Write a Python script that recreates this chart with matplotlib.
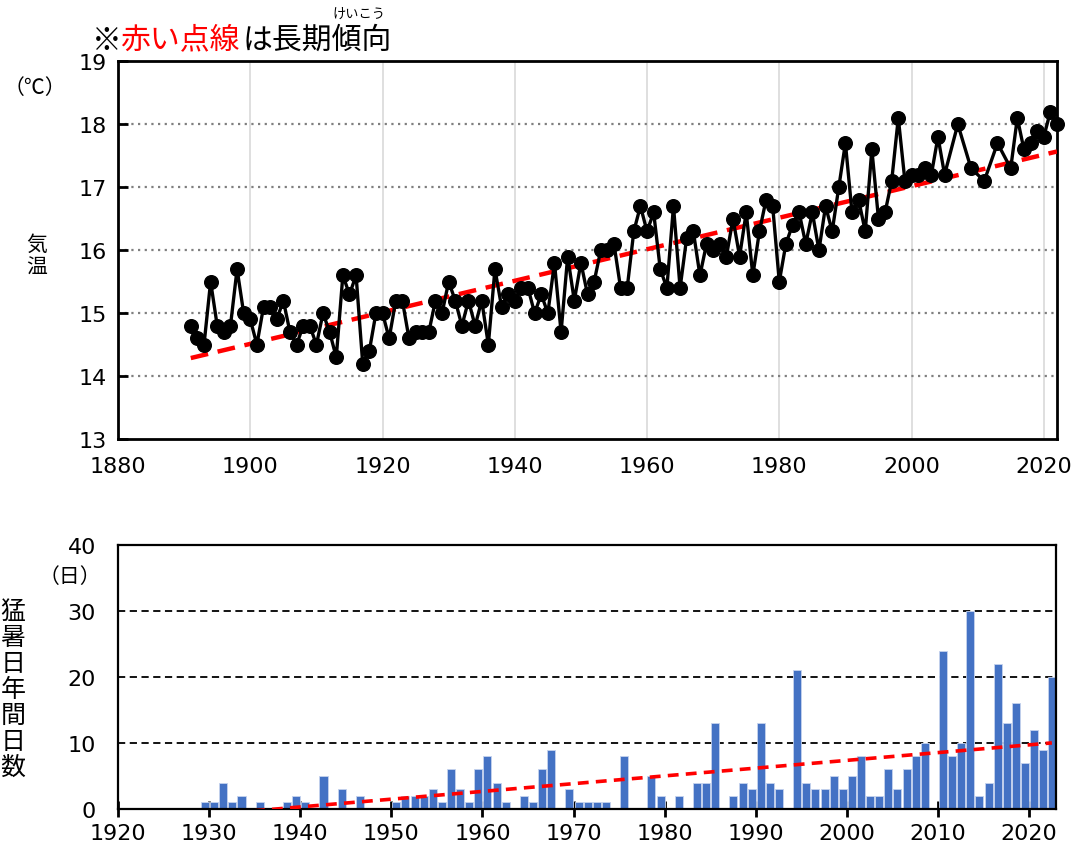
import matplotlib
matplotlib.use("Agg")
import matplotlib.pyplot as plt
import numpy as np

plt.rcParams['font.family'] = ['Noto Sans CJK JP', 'DejaVu Sans']

# 年平均気温 (℃), NaN = 欠測
years = list(range(1891, 2023))
temps = [14.8, 14.6, 14.5, 15.5, 14.8, 14.7, 14.8, 15.7, 15.0, 14.9,   # 1891-1900
         14.5, 15.1, 15.1, 14.9, 15.2, 14.7, 14.5, 14.8, 14.8, 14.5,   # 1901-1910
         15.0, 14.7, 14.3, 15.6, 15.3, 15.6, 14.2, 14.4, 15.0, 15.0,   # 1911-1920
         14.6, 15.2, 15.2, 14.6, 14.7, 14.7, 14.7, 15.2, 15.0, 15.5,   # 1921-1930
         15.2, 14.8, 15.2, 14.8, 15.2, 14.5, 15.7, 15.1, 15.3, 15.2,   # 1931-1940
         15.4, 15.4, 15.0, 15.3, 15.0, 15.8, 14.7, 15.9, 15.2, 15.8,   # 1941-1950
         15.3, 15.5, 16.0, 16.0, 16.1, 15.4, 15.4, 16.3, 16.7, 16.3,   # 1951-1960
         16.6, 15.7, 15.4, 16.7, 15.4, 16.2, 16.3, 15.6, 16.1, 16.0,   # 1961-1970
         16.1, 15.9, 16.5, 15.9, 16.6, 15.6, 16.3, 16.8, 16.7, 15.5,   # 1971-1980
         16.1, 16.4, 16.6, 16.1, 16.6, 16.0, 16.7, 16.3, 17.0, 17.7,   # 1981-1990
         16.6, 16.8, 16.3, 17.6, 16.5, 16.6, 17.1, 18.1, 17.1, 17.2,   # 1991-2000
         17.2, 17.3, 17.2, 17.8, 17.2, np.nan, 18.0, np.nan, 17.3, np.nan,   # 2001-2010
         17.1, np.nan, 17.7, np.nan, 17.3, 18.1, 17.6, 17.7, 17.9, 17.8,   # 2011-2020
         18.2, 18.0]                                                    # 2021-2022

# 猛暑日 年間日数
hot_years = list(range(1929, 2023))
hot_days = [1, 1, 4, 1, 2, 0, 1, 0, 0, 1, 2,          # 1929-1939
            1, 0, 5, 0, 3, 0, 2, 0, 0, 0,             # 1940-1949
            1, 2, 2, 2, 3, 1, 6, 3, 1, 6,             # 1950-1959
            8, 4, 1, 0, 2, 1, 6, 9, 0, 3,             # 1960-1969
            1, 1, 1, 1, 0, 8, 0, 0, 5, 2,             # 1970-1979
            0, 2, 0, 4, 4, 13, 0, 2, 4, 3,            # 1980-1989
            13, 4, 3, 0, 21, 4, 3, 3, 5, 3,           # 1990-1999
            5, 8, 2, 2, 6, 3, 6, 8, 10, 0,            # 2000-2009
            24, 8, 10, 30, 2, 4, 22, 13, 16, 7,       # 2010-2019
            12, 9, 20]                                # 2020-2022

x = np.array(years, dtype=float)
t = np.array(temps, dtype=float)
ok = ~np.isnan(t)

fig = plt.figure(figsize=(10.88, 8.53), dpi=100)
tick_font = {'family': 'DejaVu Sans', 'size': 16}

# ---- 上段: 年平均気温 ----
ax1 = fig.add_axes([0.1085, 0.484, 0.863, 0.443])
ax1.set_xlim(1880, 2022)
ax1.set_ylim(13, 19)
ax1.set_xticks(range(1880, 2021, 20))
ax1.set_yticks(range(13, 20))
for v in range(1900, 2021, 20):
    ax1.axvline(v, color='#d9d9d9', lw=1.2, zorder=0)
for v in range(14, 19):
    ax1.axhline(v, color='#7f7f7f', lw=1.6, ls=(0, (1, 2)), zorder=0)

c1 = np.polyfit(x[ok], t[ok], 1)
ax1.plot([1891, 2022], np.polyval(c1, [1891, 2022]), color='#ff0000', lw=3.2,
         ls=(0, (4, 2.2)), zorder=3)
ax1.plot(x[ok], t[ok], color='black', lw=2.4, marker='o', ms=9.8, zorder=4,
         clip_on=False)

for s in ax1.spines.values():
    s.set_linewidth(2)
ax1.tick_params(axis='y', direction='in', length=7, width=2, pad=8)
ax1.tick_params(axis='x', length=0, pad=12)
for lab in ax1.get_xticklabels() + ax1.get_yticklabels():
    lab.set_fontproperties(tick_font)

# ---- 下段: 猛暑日 ----
ax2 = fig.add_axes([0.1085, 0.0504, 0.8625, 0.3095])
hx = np.array(hot_years, dtype=float)
hd = np.array(hot_days, dtype=float)
ax2.bar(hx + 0.55, hd, width=0.88, color='#4472c4', edgecolor='#c5d3ee',
        linewidth=0.6, zorder=2)
ax2.set_xlim(1920, 2023)
ax2.set_ylim(0, 40)
ax2.set_xticks(range(1920, 2021, 10))
ax2.set_yticks(range(0, 41, 10))
for v in (10, 20, 30):
    ax2.axhline(v, color='black', lw=1.3, ls=(0, (4, 2.5)), zorder=1)

c2 = np.polyfit(hx, hd, 1)
xs = np.array([1929, 2022.5])
ax2.plot(xs, np.polyval(c2, xs), color='#ff0000', lw=2.6, ls=(0, (3, 2)), zorder=3)

for s in ax2.spines.values():
    s.set_linewidth(1.6)
ax2.tick_params(axis='x', direction='inout', length=12, width=2, pad=4)
ax2.tick_params(axis='y', length=0, pad=16)
for lab in ax2.get_xticklabels() + ax2.get_yticklabels():
    lab.set_fontproperties(tick_font)

# ---- テキスト ----
fs = 21.5
fig.text(92 / 1088, 1 - 40 / 853, '※', fontsize=fs, va='center', ha='left')
fig.text(120 / 1088, 1 - 40 / 853, '赤い点線', fontsize=fs, va='center', ha='left',
         color='#ff0000')
fig.text(243 / 1088, 1 - 40 / 853, 'は長期傾向', fontsize=fs, va='center', ha='left')
fig.text(359 / 1088, 1 - 14 / 853, 'けいこう', fontsize=9.5, va='center', ha='center')

fig.text(35 / 1088, 1 - 88 / 853, '（℃）', fontsize=15, va='center', ha='center')
fig.text(37 / 1088, 1 - 256 / 853, '気\n温', fontsize=15, va='center', ha='center',
         linespacing=1.05)
fig.text(70 / 1088, 1 - 577 / 853, '（日）', fontsize=15, va='center', ha='center')
fig.text(13 / 1088, 1 - 690 / 853, '\n'.join('猛暑日年間日数'), fontsize=18,
         va='center', ha='center', linespacing=1.0)

fig.savefig('out.png', dpi=100)
